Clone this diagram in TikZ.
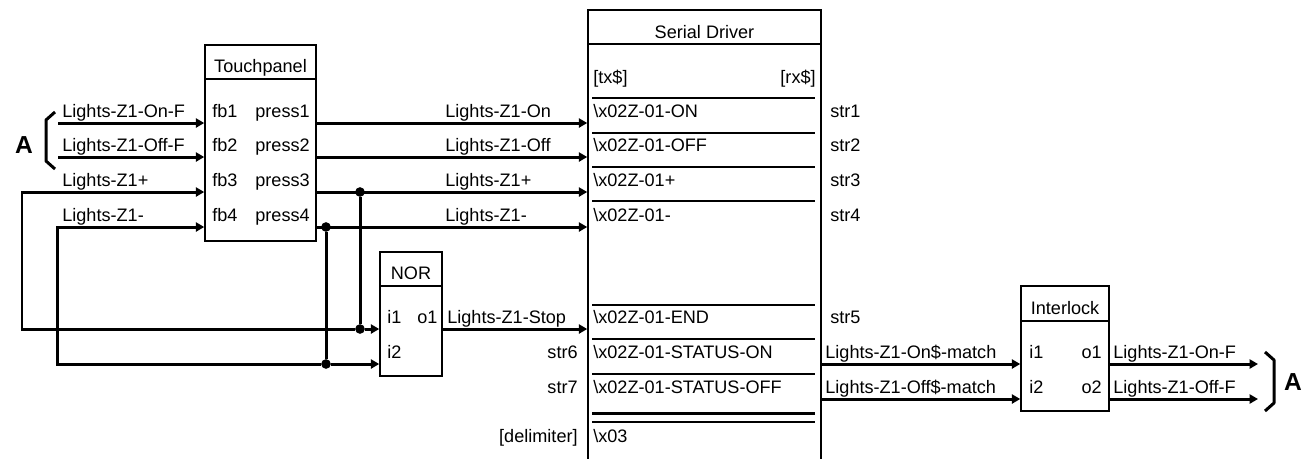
\documentclass[tikz,border=0pt]{standalone}
\usepackage{fontspec}
\setmainfont{Liberation Sans}
\usetikzlibrary{arrows.meta,fit,positioning}

\begin{document}
\begin{tikzpicture}[x=0.02cm,y=-0.02cm, every node/.style={font=\fontsize{10.3}{12}\selectfont, inner sep=0pt},
    blk/.style={draw, line width=0.03cm, inner sep=0pt},
    wire/.style={line width=0.06cm},
    sig/.style={wire, -{Triangle[length=4.8pt,width=5.2pt]}},
    sep/.style={line width=0.025cm},
    dot/.style={circle, fill, minimum size=5.5pt},
    bigA/.style={font=\fontsize{14}{16}\selectfont\bfseries}]
    \useasboundingbox (0,0) rectangle (1308,458);
    \clip (0,0) rectangle (1308,458);
    \node[blk, fit={(205,45) (316,241)}] (tp) {};
    \node[blk, fit={(380,252) (442,376)}] (nor) {};
    \node[blk, fit={(588,10) (821,480)}] (sd) {};
    \node[blk, fit={(1021,286) (1109,411)}] (il) {};
    \foreach \b/\y in {tp/79,nor/286,sd/44,il/321}{\draw[sep] (\b.west |- 0,\y) -- (\b.east |- 0,\y);}
    \node[anchor=base] (tpt) at (260.5,72) {Touchpanel};
    \node[anchor=base] (nort) at (411,279) {NOR};
    \node[anchor=base] (sdt) at (704.5,38) {Serial Driver};
    \node[anchor=base] (ilt) at (1065,314) {Interlock};
    \foreach \i/\y/\t in {1/123/Lights-Z1-On,2/157/Lights-Z1-Off,3/192/Lights-Z1+,4/227/Lights-Z1-}{
        \node[anchor=base west] (fb\i) at (212,\y-6) {fb\i};
        \node[anchor=base west] (pr\i) at (255,\y-6) {press\i};
        \node[anchor=base west] (mid\i) at (445,\y-6) {\t};
        \node[anchor=base west] (str\i) at (830,\y-6) {str\i};
        \draw[sig] (tp.east |- 0,\y) -- (sd.west |- 0,\y);
    }
    \coordinate (a1) at (58,123);
    \coordinate (a2) at (58,157);
    \coordinate (b3) at (22,192);
    \coordinate (b4) at (57,227);
    \draw[sig] (a1) -- (tp.west |- a1);
    \draw[sig] (a2) -- (tp.west |- a2);
    \foreach \i/\y/\t in {1/123/Lights-Z1-On-F,2/157/Lights-Z1-Off-F,3/192/Lights-Z1+,4/227/Lights-Z1-}{\node[anchor=base west] (in\i) at (62,\y-6) {\t};}
    \draw[wire, line join=round] (55,112) -- (46,120) -- (46,161) -- (55,169);
    \node[bigA] (ain) at (24,145) {A};
    \node[dot] (j3) at (360,192) {};
    \node[dot] (j4) at (326,227) {};
    \node[dot] (k3) at (360,329) {};
    \node[dot] (k4) at (326,364) {};
    \draw[wire] (j3) -- (k3);
    \draw[wire] (j4) -- (k4);
    \draw[sig] (k3) -- (nor.west |- k3);
    \draw[sig] (k4) -- (nor.west |- k4);
    \draw[sig] (k3) -| (b3) -- (tp.west |- b3);
    \draw[sig] (k4) -| (b4) -- (tp.west |- b4);
    \node[anchor=base west] (ni1) at (387,323) {i1};
    \node[anchor=base west] (no1) at (417,323) {o1};
    \node[anchor=base west] (ni2) at (387,358) {i2};
    \draw[sig] (nor.east |- 0,329) -- (sd.west |- 0,329);
    \node[anchor=base west] (stop) at (447,323) {Lights-Z1-Stop};
    \foreach \y in {98,133,167,201,305,339,374,422}{\draw[sep] (592,\y) -- (815,\y);}
    \draw[wire] (592,413) -- (815,413);
    \node[anchor=base west] (tx) at (593,83) {[tx\$]};
    \node[anchor=base east] (rx) at (816,83) {[rx\$]};
    \foreach \i/\y/\t in {1/117/-ON,2/151/-OFF,3/186/+,4/221/-,5/323/-END,6/358/-STATUS-ON,7/393/-STATUS-OFF}{\node[anchor=base west] (cmd\i) at (593,\y) {\textbackslash x02Z-01\t};}
    \node[anchor=base west] (cmd8) at (593,442) {\textbackslash x03};
    \node[anchor=base west] (str5) at (830,323) {str5};
    \node[anchor=base east] (str6) at (578,358) {str6};
    \node[anchor=base east] (str7) at (578,393) {str7};
    \node[anchor=base east] (dlm) at (578,442) {[delimiter]};
    \draw[sig] (sd.east |- 0,364) -- (il.west |- 0,364);
    \draw[sig] (sd.east |- 0,399) -- (il.west |- 0,399);
    \node[anchor=base west] (m1) at (825,358) {Lights-Z1-On\$-match};
    \node[anchor=base west] (m2) at (825,393) {Lights-Z1-Off\$-match};
    \node[anchor=base west] (ii1) at (1029,358) {i1};
    \node[anchor=base east] (io1) at (1102,358) {o1};
    \node[anchor=base west] (ii2) at (1029,393) {i2};
    \node[anchor=base east] (io2) at (1102,393) {o2};
    \coordinate (c1) at (1258,364);
    \coordinate (c2) at (1258,399);
    \draw[sig] (il.east |- c1) -- (c1);
    \draw[sig] (il.east |- c2) -- (c2);
    \node[anchor=base west] (out1) at (1113,358) {Lights-Z1-On-F};
    \node[anchor=base west] (out2) at (1113,393) {Lights-Z1-Off-F};
    \draw[wire, line join=round] (1265,352) -- (1274,360) -- (1274,403) -- (1265,411);
    \node[bigA] (aout) at (1293,382) {A};
\end{tikzpicture}
\end{document}
